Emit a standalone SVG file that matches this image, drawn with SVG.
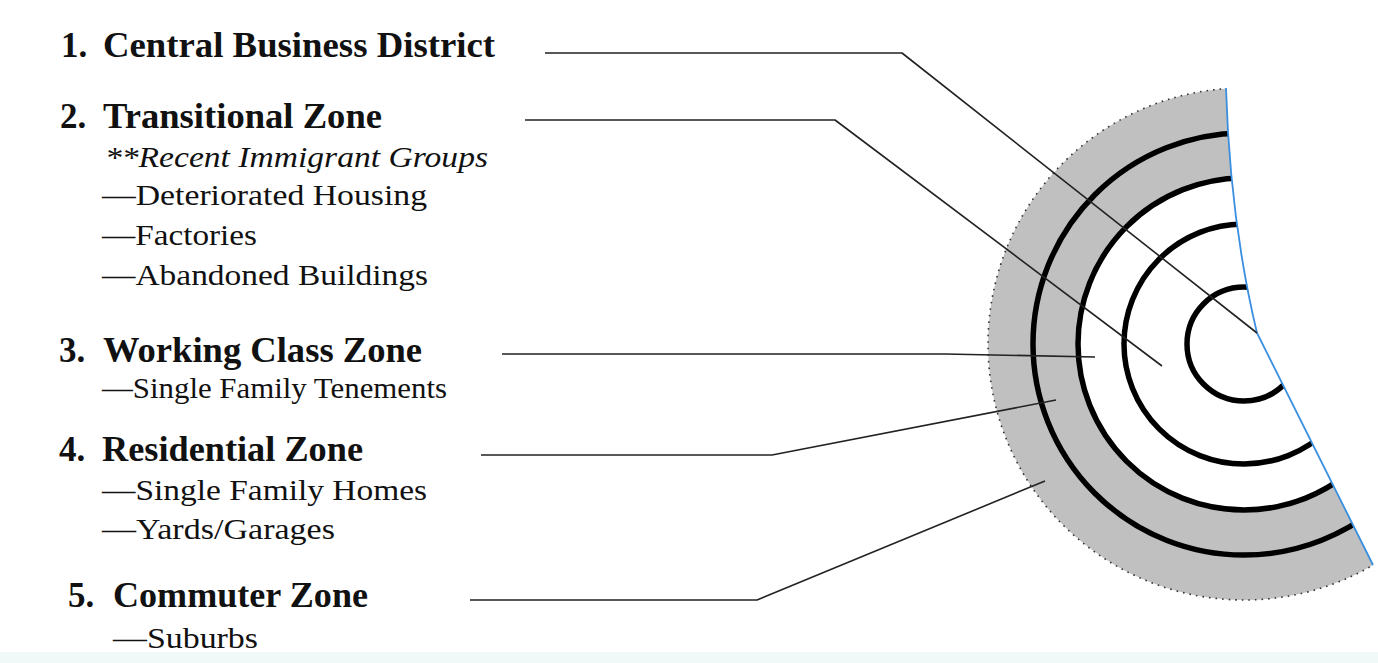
<svg xmlns="http://www.w3.org/2000/svg" width="1378" height="663" viewBox="0 0 1378 663">
  <style>
    .h { font-family: "Liberation Serif", "Times New Roman", serif; font-weight: bold; font-size: 35px; fill: #111; }
    .s { font-family: "Liberation Serif", "Times New Roman", serif; font-size: 30px; fill: #111; }
    .i { font-style: italic; }
    .conn { fill: none; stroke: #222; stroke-width: 1.6; stroke-linejoin: round; }
    .ring { fill: none; stroke: #000; stroke-width: 5.5; }
  </style>
  <defs>
    <clipPath id="fan">
      <path d="M0,0 H1226 V88 Q1230,220 1257,333 L1400,620 V663 H0 Z"/>
    </clipPath>
  </defs>
  <rect x="0" y="0" width="1378" height="663" fill="#fff"/>
  <rect x="0" y="652" width="1378" height="11" fill="#f1f9f8"/>

  <g id="zones-diagram" clip-path="url(#fan)">
    <path d="M1244,88 a256,256 0 1,0 0.01,0 Z M1244,178 a166,166 0 1,1 -0.01,0 Z" fill="#c0c0c0" fill-rule="evenodd"/>
    <circle cx="1244" cy="344" r="256" fill="none" stroke="#333" stroke-width="1.6" stroke-dasharray="1.6 5"/>
    <circle class="ring" cx="1244" cy="344" r="57"/>
    <circle class="ring" cx="1244" cy="344" r="120"/>
    <circle class="ring" cx="1244" cy="344" r="166"/>
    <circle class="ring" cx="1244" cy="344" r="211"/>
  </g>
  <path id="edge" d="M1226,88 Q1230,220 1257,333 L1373,565" fill="none" stroke="#3a8ee0" stroke-width="1.8"/>

  <g id="connectors">
    <polyline class="conn" points="545,53 902,53 1257,333"/>
    <polyline class="conn" points="525,120 835,120 1162,366"/>
    <polyline class="conn" points="502,354 945,354 1095,357"/>
    <polyline class="conn" points="481,455 772,455 1056,400"/>
    <polyline class="conn" points="470,600 757,600 1045,481"/>
  </g>

  <g id="zone1">
    <text class="h" x="61" y="57">1.</text>
    <text class="h" x="103" y="57" textLength="392" lengthAdjust="spacingAndGlyphs">Central Business District</text>
  </g>
  <g id="zone2">
    <text class="h" x="60" y="128">2.</text>
    <text class="h" x="103" y="128" textLength="279" lengthAdjust="spacingAndGlyphs">Transitional Zone</text>
    <text class="s i" x="105" y="167" textLength="383" lengthAdjust="spacingAndGlyphs">**Recent Immigrant Groups</text>
    <text class="s" x="102" y="205" textLength="325" lengthAdjust="spacingAndGlyphs">—Deteriorated Housing</text>
    <text class="s" x="102" y="245" textLength="155" lengthAdjust="spacingAndGlyphs">—Factories</text>
    <text class="s" x="102" y="285" textLength="326" lengthAdjust="spacingAndGlyphs">—Abandoned Buildings</text>
  </g>
  <g id="zone3">
    <text class="h" x="59" y="362">3.</text>
    <text class="h" x="103" y="362" textLength="319" lengthAdjust="spacingAndGlyphs">Working Class Zone</text>
    <text class="s" x="102" y="398" textLength="345" lengthAdjust="spacingAndGlyphs">—Single Family Tenements</text>
  </g>
  <g id="zone4">
    <text class="h" x="59" y="461">4.</text>
    <text class="h" x="102" y="461" textLength="261" lengthAdjust="spacingAndGlyphs">Residential Zone</text>
    <text class="s" x="102" y="500" textLength="325" lengthAdjust="spacingAndGlyphs">—Single Family Homes</text>
    <text class="s" x="102" y="539" textLength="233" lengthAdjust="spacingAndGlyphs">—Yards/Garages</text>
  </g>
  <g id="zone5">
    <text class="h" x="68" y="607">5.</text>
    <text class="h" x="113" y="607" textLength="255" lengthAdjust="spacingAndGlyphs">Commuter Zone</text>
    <text class="s" x="113" y="648" textLength="145" lengthAdjust="spacingAndGlyphs">—Suburbs</text>
  </g>
</svg>
